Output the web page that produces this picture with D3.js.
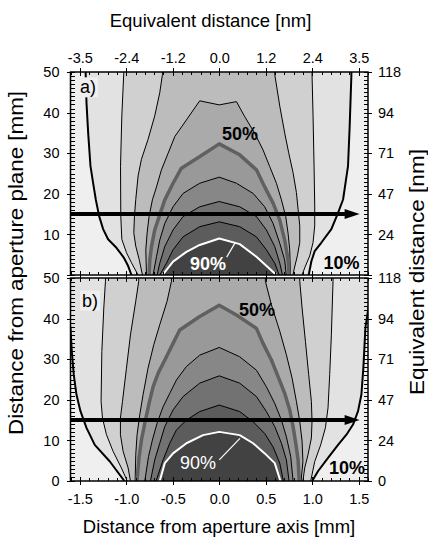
<!DOCTYPE html>
<html><head><meta charset="utf-8">
<script src="https://cdn.jsdelivr.net/npm/d3@7"></script>
<style>
body{margin:0;background:#fff;}
text{font-family:"Liberation Sans",Arial,Helvetica,sans-serif;}
</style></head><body>
<svg id="chart" width="428" height="541"></svg>
<script>
// ---------- DATA (x in mm from aperture axis, y in mm from aperture plane) ----------
const xTicks = [-1.5,-1,-0.5,0,0.5,1,1.5];
const xTickLabels = ["-1.5","-1.0","-0.5","0.0","0.5","1.0","1.5"];
const topTickLabels = ["-3.5","-2.4","-1.2","0.0","1.2","2.4","3.5"];
const yTicks = [0,10,20,30,40,50];
const leftTickLabels = ["0","10","20","30","40","50"];
const rightTickLabels = ["0","24","47","71","94","118"];
const levels = [10,20,30,40,50,60,70,80,90];
const fillColors = ["#efefef","#e2e2e2","#d0d0d0","#bcbcbc","#aaaaaa","#999999","#878787","#727272","#5c5c5c","#424242"];
const arrowYmm = 15;
const arrowXmm = [-1.6, 1.51];

// panel a) contours
const a10 = [[-1.44,52],[-1.428,42.4],[-1.41,35],[-1.385,26.8],[-1.357,22.7],[-1.328,18.6],[-1.292,14.5],[-1.249,11.3],[-1.196,8.8],[-1.106,6.7],[-1.027,4.3],[-0.98,2.2],[-0.944,0],
             [0.962,0],[0.991,3.4],[1.027,5.9],[1.099,8.0],[1.206,11.3],[1.278,15.3],[1.332,18.6],[1.385,26.8],[1.403,36.7],[1.421,49],[1.422,52]];
const a20 = [[-1.03,52],[-1.027,49.7],[-1.048,39.2],[-1.062,26.8],[-1.059,14.5],[-1.048,8.8],[-0.998,5.5],[-0.944,3.0],[-0.873,0],
             [0.89,0],[0.927,2.2],[0.973,4.7],[1.009,8.0],[1.027,12.1],[1.027,17],[1.02,26.8],[1.009,39.2],[0.998,49.4],[1.0,52]];
const a30 = [[-0.61,52],[-0.611,49.4],[-0.64,44.9],[-0.694,39.2],[-0.766,33.4],[-0.837,28.5],[-0.873,24.4],[-0.898,18.6],[-0.912,14.5],[-0.919,10.4],[-0.898,7.1],[-0.862,3.9],[-0.826,0],
             [0.794,0],[0.805,1.4],[0.84,4.7],[0.866,8.0],[0.866,12.1],[0.848,16.2],[0.83,20.3],[0.794,25.2],[0.747,30.1],[0.704,35.0],[0.651,41.6],[0.597,49.4],[0.595,52]];
const a40 = [[-0.783,0],[-0.79,6.2],[-0.776,10.3],[-0.755,14.4],[-0.719,18.5],[-0.675,21.7],[-0.622,25.9],[-0.55,30.0],[-0.478,34.1],[-0.353,38.2],[-0.21,42.9],[0,41.9],[0.185,42.7],[0.274,39.0],[0.382,34.9],[0.471,30.8],[0.543,26.7],[0.615,22.6],[0.669,18.5],[0.715,14.4],[0.74,10.3],[0.758,6.2],[0.766,0]];
const a50 = [[-0.755,0],[-0.747,3.7],[-0.729,7.0],[-0.694,11.1],[-0.64,14.8],[-0.586,18.5],[-0.497,22.6],[-0.407,26.3],[-0.2,29.3],[0,32.3],[0.22,29.6],[0.4,25.9],[0.489,21.7],[0.579,17.7],[0.651,13.5],[0.704,8.6],[0.74,3.7],[0.751,0]];
const a60 = [[-0.712,0],[-0.675,4.5],[-0.64,8.6],[-0.586,12.7],[-0.497,16.8],[-0.389,20.1],[-0.21,22.6],[0,24.1],[0.185,22.6],[0.364,20.1],[0.489,16.8],[0.579,12.7],[0.651,7.8],[0.704,3.7],[0.72,0]];
const a70 = [[-0.668,0],[-0.64,2.9],[-0.586,7.0],[-0.497,11.1],[-0.389,14.4],[-0.21,16.8],[0,18.1],[0.22,16.8],[0.4,14.4],[0.507,11.1],[0.597,7.0],[0.651,2.9],[0.68,0]];
const a80 = [[-0.64,0],[-0.568,2.9],[-0.497,6.2],[-0.389,9.4],[-0.21,11.9],[0,13.1],[0.22,11.9],[0.4,9.4],[0.507,6.2],[0.597,2.9],[0.645,0]];
const a90 = [[-0.61,0],[-0.497,3.3],[-0.353,5.7],[-0.21,7.4],[0,9.0],[0.22,7.6],[0.4,4.5],[0.615,0]];

// panel b) contours
const b10 = [[-1.68,52],[-1.66,44],[-1.6,37.7],[-1.586,31.9],[-1.565,26.2],[-1.536,21.3],[-1.493,17.2],[-1.428,13.1],[-1.339,8.9],[-1.177,4.8],[-1.02,0],
             [1.0,0],[1.062,2.4],[1.17,5.7],[1.278,8.9],[1.368,11.4],[1.439,13.9],[1.493,17.2],[1.529,21.3],[1.55,27.8],[1.572,37.7],[1.62,45],[1.65,52]];
const b20 = [[-1.22,52],[-1.224,49.2],[-1.242,42.6],[-1.263,31.9],[-1.271,19.6],[-1.256,15.5],[-1.213,11.4],[-1.142,7.3],[-1.052,3.2],[-0.99,0],
             [0.984,0],[1.027,4.8],[1.091,8.9],[1.142,13.1],[1.17,18.0],[1.188,26.2],[1.206,36.0],[1.224,49.2],[1.225,52]];
const b30 = [[-0.866,52],[-0.866,49.2],[-0.898,44.3],[-0.955,36.0],[-0.998,27.8],[-1.041,19.6],[-1.063,15.5],[-1.063,11.4],[-1.034,7.3],[-0.98,3.2],[-0.955,0],
             [0.9,0],[0.919,3.2],[0.955,6.5],[0.991,10.6],[0.998,14.7],[0.991,19.6],[0.962,26.2],[0.927,34.4],[0.891,42.6],[0.866,49.2],[0.866,52]];
const b40 = [[-0.514,52],[-0.514,49.2],[-0.561,44.3],[-0.64,38.5],[-0.704,33.6],[-0.766,27.8],[-0.819,21.3],[-0.855,16.3],[-0.884,11.4],[-0.898,6.5],[-0.905,0],
             [0.88,0],[0.9,4.8],[0.891,9.8],[0.866,14.7],[0.83,19.6],[0.783,25.4],[0.722,31.1],[0.651,36.9],[0.561,43.4],[0.496,49.2],[0.496,52]];
const b50 = [[-0.885,0],[-0.862,6.0],[-0.837,10.1],[-0.801,14.2],[-0.755,19.1],[-0.712,23.2],[-0.658,26.5],[-0.568,30.6],[-0.497,33.9],[-0.425,37.2],[-0.21,40.5],[0,43.3],[0.185,40.9],[0.4,37.6],[0.471,33.9],[0.561,29.8],[0.633,25.7],[0.704,21.6],[0.758,17.5],[0.794,13.4],[0.823,9.3],[0.848,5.2],[0.86,0]];
const b60 = [[-0.801,0],[-0.761,6.0],[-0.719,10.1],[-0.669,14.2],[-0.604,18.3],[-0.532,21.6],[-0.46,24.9],[-0.353,28.2],[-0.21,31.0],[0,32.9],[0.22,30.6],[0.4,27.3],[0.507,23.2],[0.597,19.1],[0.669,15.0],[0.722,10.9],[0.769,6.0],[0.794,0]];
const b70 = [[-0.74,0],[-0.694,5.2],[-0.64,9.3],[-0.586,13.4],[-0.497,17.5],[-0.389,20.8],[-0.21,24.1],[0,25.9],[0.22,24.1],[0.4,20.8],[0.507,17.1],[0.597,13.4],[0.669,9.3],[0.722,5.2],[0.751,0]];
const b80 = [[-0.68,0],[-0.604,5.2],[-0.532,9.3],[-0.46,12.6],[-0.353,15.0],[-0.21,17.1],[0,18.7],[0.22,17.1],[0.364,14.6],[0.489,11.7],[0.579,8.4],[0.651,4.4],[0.69,0]];
const b90 = [[-0.64,0],[-0.586,4.4],[-0.497,6.8],[-0.353,9.3],[-0.174,11.3],[0,12.1],[0.22,11.3],[0.364,9.3],[0.489,6.8],[0.597,4.4],[0.658,0]];

// annotations (text, x mm, y mm, weight, colour)
const annotA = [["a)",-1.412,46.3,"normal","#000"],["50%",0.223,34.7,"bold","#000"],["90%",-0.121,2.7,"bold","#fff"],["10%",1.315,2.96,"bold","#000"]];
const annotB = [["b)",-1.39,44.5,"normal","#000"],["50%",0.406,42.1,"bold","#000"],["90%",-0.229,4.4,"normal","#fff"],["10%",1.374,3.3,"bold","#000"]];
const leaderA = [[0.08,4.4],[0.17,7.9]];
const leaderB = [[0.0,5.2],[0.223,10.5]];

// ---------- DRAW ----------
const svg = d3.select("#chart");
const x = d3.scaleLinear().domain([-1.6,1.6]).range([70.5,368]);
const panels = [
  {id:"a", y:d3.scaleLinear().domain([0,50]).range([275,72]), contours:[a10,a20,a30,a40,a50,a60,a70,a80,a90], annot:annotA, leader:leaderA, topLabels:true, bottomLabels:false, skipZero:true},
  {id:"b", y:d3.scaleLinear().domain([0,50]).range([481,278]), contours:[b10,b20,b30,b40,b50,b60,b70,b80,b90], annot:annotB, leader:leaderB, topLabels:false, bottomLabels:true, skipZero:false}
];

const defs = svg.append("defs");

function branches(pts){
  const out=[[pts[0]]];
  for(let i=1;i<pts.length;i++){
    if(pts[i][1]===0 && pts[i-1][1]===0) out.push([pts[i]]);
    else out[out.length-1].push(pts[i]);
  }
  return out;
}
function lineStyle(level){
  if(level===10) return {c:"#000",w:2};
  if(level===50) return {c:"#606060",w:3.5};
  if(level===90) return {c:"#fff",w:2};
  return {c:"#000",w:1};
}

const xMinor = d3.range(-16,17).map(i=>i/10).filter(v=>Math.abs(v*2-Math.round(v*2))>1e-6);
const yMinor = d3.range(0,51).filter(v=>v%10!==0);

panels.forEach(p=>{
  const y = p.y;
  const [xa,xb] = x.range(); const ya = y.range()[1], yb = y.range()[0];
  defs.append("clipPath").attr("id","clip"+p.id).append("rect")
    .attr("x",xa).attr("y",ya).attr("width",xb-xa).attr("height",yb-ya);
  const g = svg.append("g").attr("clip-path","url(#clip"+p.id+")");
  g.append("rect").attr("x",xa).attr("y",ya).attr("width",xb-xa).attr("height",yb-ya).attr("fill",fillColors[0]);
  const line = d3.line().x(d=>x(d[0])).y(d=>y(d[1]));
  p.contours.forEach((c,i)=>{
    g.append("path").attr("d",line(c)+"Z").attr("fill",fillColors[i+1]);
  });
  p.contours.forEach((c,i)=>{
    const st = lineStyle(levels[i]);
    branches(c).forEach(b=>{
      g.append("path").attr("d",line(b)).attr("fill","none")
        .attr("stroke",st.c).attr("stroke-width",st.w).attr("stroke-linejoin","round");
    });
  });
  g.append("path").attr("d",line(p.leader)).attr("stroke","#fff").attr("stroke-width",1.2).attr("fill","none");
  const ay = y(arrowYmm), ax0 = x(arrowXmm[0]), ax1 = x(arrowXmm[1]);
  g.append("line").attr("x1",ax0).attr("x2",ax1-12).attr("y1",ay).attr("y2",ay)
    .attr("stroke","#000").attr("stroke-width",4);
  g.append("path").attr("d",`M${ax1},${ay} L${ax1-15},${ay-5} L${ax1-15},${ay+5} Z`).attr("fill","#000");
  p.annot.forEach(a=>{
    const t = svg.append("text").attr("x",x(a[1])).attr("y",y(a[2])).attr("dy","0.35em")
      .attr("text-anchor","middle").attr("font-size",18).attr("font-weight",a[3]).attr("fill",a[4]).text(a[0]);
    if(a[0].endsWith(")")){
      const bb = t.node().getBBox();
      svg.insert("rect", () => t.node()).attr("x",bb.x-2).attr("y",bb.y).attr("width",bb.width+4).attr("height",bb.height)
        .attr("fill",fillColors[0]);
    }
  });
  svg.append("rect").attr("x",xa).attr("y",ya).attr("width",xb-xa).attr("height",yb-ya)
    .attr("fill","none").attr("stroke","#000").attr("stroke-width",1.5);

  const fmtIdx = (arr, ticks) => (d => arr[ticks.indexOf(d)]);
  const gb = svg.append("g").attr("transform",`translate(0,${yb})`)
    .call(d3.axisBottom(x).tickValues(xTicks).tickSize(4).tickSizeOuter(0).tickPadding(9)
      .tickFormat(p.bottomLabels ? fmtIdx(xTickLabels,xTicks) : ""));
  const gbIn = svg.append("g").attr("transform",`translate(0,${yb})`)
    .call(d3.axisBottom(x).tickValues(xTicks).tickSize(-4).tickSizeOuter(0).tickFormat(""));
  const gbMin = svg.append("g").attr("transform",`translate(0,${yb})`)
    .call(d3.axisBottom(x).tickValues(xMinor).tickSize(-3).tickSizeOuter(0).tickFormat(""));
  const gt = svg.append("g").attr("transform",`translate(0,${ya})`)
    .call(d3.axisTop(x).tickValues(xTicks).tickSize(4).tickSizeOuter(0).tickPadding(5)
      .tickFormat(p.topLabels ? fmtIdx(topTickLabels,xTicks) : ""));
  const gtIn = svg.append("g").attr("transform",`translate(0,${ya})`)
    .call(d3.axisTop(x).tickValues(xTicks).tickSize(-4).tickSizeOuter(0).tickFormat(""));
  const gtMin = svg.append("g").attr("transform",`translate(0,${ya})`)
    .call(d3.axisTop(x).tickValues(xMinor).tickSize(-3).tickSizeOuter(0).tickFormat(""));
  const lf = d => (p.skipZero && d===0) ? "" : leftTickLabels[yTicks.indexOf(d)];
  const gl = svg.append("g").attr("transform",`translate(${xa},0)`)
    .call(d3.axisLeft(y).tickValues(yTicks).tickSize(4).tickSizeOuter(0).tickPadding(7).tickFormat(lf));
  const glIn = svg.append("g").attr("transform",`translate(${xa},0)`)
    .call(d3.axisLeft(y).tickValues(yTicks).tickSize(-4).tickSizeOuter(0).tickFormat(""));
  const glMin = svg.append("g").attr("transform",`translate(${xa},0)`)
    .call(d3.axisLeft(y).tickValues(yMinor).tickSize(-4).tickSizeOuter(0).tickFormat(""));
  const rf = d => (p.skipZero && d===0) ? "" : rightTickLabels[yTicks.indexOf(d)];
  const gr = svg.append("g").attr("transform",`translate(${xb},0)`)
    .call(d3.axisRight(y).tickValues(yTicks).tickSize(4).tickSizeOuter(0).tickPadding(6).tickFormat(rf));
  const grIn = svg.append("g").attr("transform",`translate(${xb},0)`)
    .call(d3.axisRight(y).tickValues(yTicks).tickSize(-4).tickSizeOuter(0).tickFormat(""));
  const grMin = svg.append("g").attr("transform",`translate(${xb},0)`)
    .call(d3.axisRight(y).tickValues(yMinor).tickSize(-4).tickSizeOuter(0).tickFormat(""));
  [gb,gbIn,gbMin,gt,gtIn,gtMin,gl,glIn,glMin,gr,grIn,grMin].forEach(s=>{
    s.select(".domain").remove();
    s.selectAll("line").attr("stroke","#000").attr("stroke-width",1).attr("shape-rendering","crispEdges");
    s.selectAll("text").attr("font-size",14.5).attr("fill","#000").attr("font-family",'"Liberation Sans",Arial,sans-serif');
  });
});

svg.append("text").attr("x",210.5).attr("y",27).attr("text-anchor","middle").attr("font-size",18.5).text("Equivalent distance [nm]");
svg.append("text").attr("x",219).attr("y",533).attr("text-anchor","middle").attr("font-size",18.5).text("Distance from aperture axis [mm]");
svg.append("text").attr("transform","translate(23,263) rotate(-90)").attr("text-anchor","middle").attr("font-size",20)
  .attr("textLength",344).attr("lengthAdjust","spacingAndGlyphs").text("Distance from aperture plane [mm]");
svg.append("text").attr("transform","translate(424,272) rotate(-90)").attr("text-anchor","middle").attr("font-size",20)
  .attr("textLength",246).attr("lengthAdjust","spacingAndGlyphs").text("Equivalent distance [nm]");
</script>
</body></html>
